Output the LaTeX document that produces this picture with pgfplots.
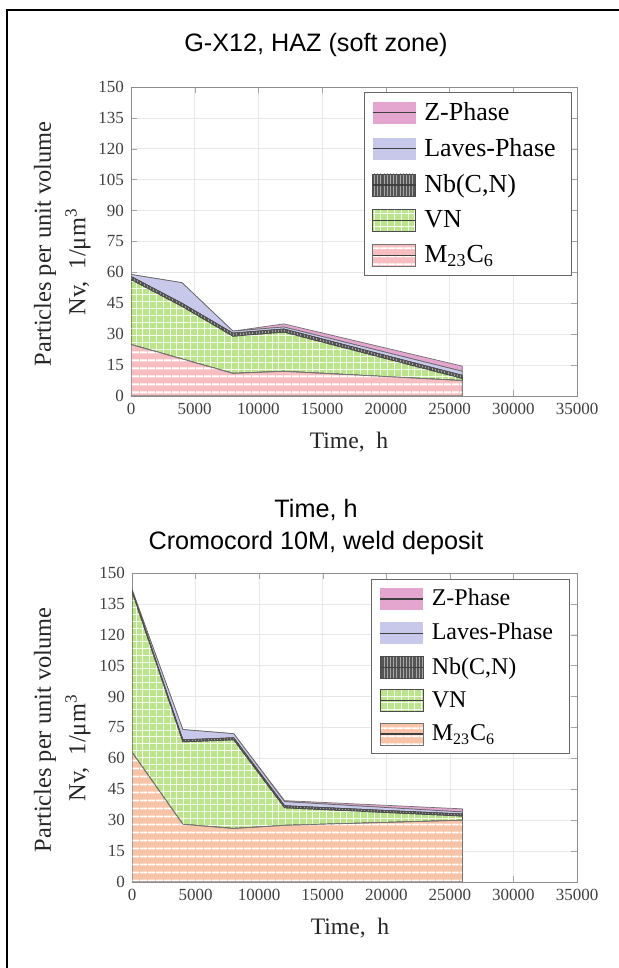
\documentclass[border=0pt]{standalone}
\usepackage{fontspec}
\setmainfont{Liberation Serif}
\newfontfamily\arial{Liberation Sans}
\usepackage{pgfplots}
\pgfplotsset{compat=1.18}
\usepackage{pgfplotstable}
\usetikzlibrary{patterns,patterns.meta}

\definecolor{mtop}{RGB}{246,190,192}
\definecolor{mbot}{RGB}{248,196,168}
\definecolor{vn}{RGB}{188,228,140}
\definecolor{nb}{RGB}{85,85,85}
\definecolor{lav}{RGB}{200,200,234}
\definecolor{zph}{RGB}{228,165,206}

\pgfplotstableread{
x M VN Nb La Z
0 25 31.5 1.5 1 0
4000 18 25.5 1.5 10 0
8000 11 18 1.5 1 0
12000 12 19 1.5 1 1.5
26000 7.5 1 1.5 2 2.5
}\toptab

\pgfplotstableread{
x M VN Nb La Z
0 63 78 0.5 0.5 0
4000 28 40 1 5 0
8000 26 43 1 2 0
12000 27.5 8.5 1 2 0.5
26000 30 2 1 1 1.5
}\bottab

\pgfplotsset{
  chartstyle/.style={
    scale only axis, width=223pt, height=154.5pt,
    anchor=south west,
    xmin=0, xmax=35000, ymin=0, ymax=150,
    xtick={0,5000,...,35000}, ytick={0,15,...,150},
    scaled x ticks=false,
    /pgf/number format/1000 sep={},
    /pgf/number format/assume math mode=true,
    tick label style={font=\fontsize{8.5}{10}\selectfont, text=black!75},
    axis line style={black!45},
    tick style={black!35},
    major tick length=3pt,
    grid=major, grid style={black!9, line width=0.3pt},
    stack plots=y,
    reverse legend,
    legend cell align=left,
    legend image code/.code={
      \path[##1,draw=none] (0pt,-5.5pt) rectangle (21.5pt,5.5pt);
      \draw[black!75,line width=0.6pt] (0pt,0pt) -- (21.5pt,0pt);
    },
  },
  mstyle/.style={draw=black!55, line width=0.35pt, fill=#1,
    postaction={pattern={Lines[angle=0,distance=4pt,line width=1pt]}, pattern color=white}},
  vnstyle/.style={draw=black!70, line width=0.35pt, fill=vn,
    postaction={pattern={Hatch[angle=0,distance=3.4pt,line width=0.45pt]}, pattern color=white!85!vn}},
  nbstyle/.style={draw=black!70, line width=0.35pt, fill=nb,
    postaction={pattern={Lines[angle=90,distance=1.6pt,line width=0.4pt]}, pattern color=black!35}},
  lastyle/.style={draw=black!60, line width=0.35pt, fill=lav},
  zstyle/.style={draw=black!55, line width=0.35pt, fill=zph},
}

\begin{document}
\begin{tikzpicture}
% frame
\draw[line width=0.75pt] (3.5pt,0pt) -- (3.5pt,479pt) -- (309.5pt,479pt);

% titles
\node[anchor=base, font=\arial\fontsize{12.6}{15}\selectfont] at (158pt,458pt) {G-X12, HAZ (soft zone)};
\node[anchor=base, font=\arial\fontsize{12.6}{15}\selectfont] at (158pt,225pt) {Time, h};
\node[anchor=base, font=\arial\fontsize{12.6}{15}\selectfont] at (158pt,209pt) {Cromocord 10M, weld deposit};

% top chart
\begin{axis}[chartstyle, at={(65.5pt,286pt)},
  legend style={at={(0.989,0.984)}, anchor=north east, draw=black!60, fill=white,
    font=\fontsize{13}{15}\selectfont, row sep=3.5pt, inner xsep=4pt, inner ysep=3pt,
    nodes={inner xsep=4pt}},
]
\addplot[mstyle=mtop] table[x=x,y=M] {\toptab} \closedcycle;
\addplot[vnstyle] table[x=x,y=VN] {\toptab} \closedcycle;
\addplot[nbstyle] table[x=x,y=Nb] {\toptab} \closedcycle;
\addplot[lastyle] table[x=x,y=La] {\toptab} \closedcycle;
\addplot[zstyle] table[x=x,y=Z] {\toptab} \closedcycle;
\legend{{M\textsubscript{23}C\textsubscript{6}}, {VN}, {Nb(C,N)}, {Laves-Phase}, {Z-Phase}}
\end{axis}

% bottom chart
\begin{axis}[chartstyle, at={(66pt,43pt)}, width=222.5pt,
  legend style={at={(0.983,0.981)}, anchor=north east, draw=black!60, fill=white,
    font=\fontsize{12}{14}\selectfont, row sep=3.2pt, inner xsep=4pt, inner ysep=3pt,
    nodes={inner xsep=4pt}},
]
\addplot[mstyle=mbot] table[x=x,y=M] {\bottab} \closedcycle;
\addplot[vnstyle] table[x=x,y=VN] {\bottab} \closedcycle;
\addplot[nbstyle] table[x=x,y=Nb] {\bottab} \closedcycle;
\addplot[lastyle] table[x=x,y=La] {\bottab} \closedcycle;
\addplot[zstyle] table[x=x,y=Z] {\bottab} \closedcycle;
\legend{{M\textsubscript{23}C\textsubscript{6}}, {VN}, {Nb(C,N)}, {Laves-Phase}, {Z-Phase}}
\end{axis}

% axis labels
\node[rotate=90, font=\fontsize{12.2}{14}\selectfont, text=black!85] at (22.5pt,362pt) {Particles per unit volume};
\node[rotate=90, font=\fontsize{12.2}{14}\selectfont, text=black!85] at (39pt,353pt) {Nv,\ \ 1/μm\textsuperscript{3}};
\node[font=\fontsize{11.8}{14}\selectfont, text=black!85] at (174.5pt,263pt) {Time,\ \ h};

\node[rotate=90, font=\fontsize{12.2}{14}\selectfont, text=black!85] at (22.5pt,119pt) {Particles per unit volume};
\node[rotate=90, font=\fontsize{12.2}{14}\selectfont, text=black!85] at (39pt,110pt) {Nv,\ \ 1/μm\textsuperscript{3}};
\node[font=\fontsize{11.8}{14}\selectfont, text=black!85] at (175pt,20pt) {Time,\ \ h};

\pgfresetboundingbox
\useasboundingbox (0pt,0pt) rectangle (309.5pt,484pt);
\end{tikzpicture}
\end{document}
